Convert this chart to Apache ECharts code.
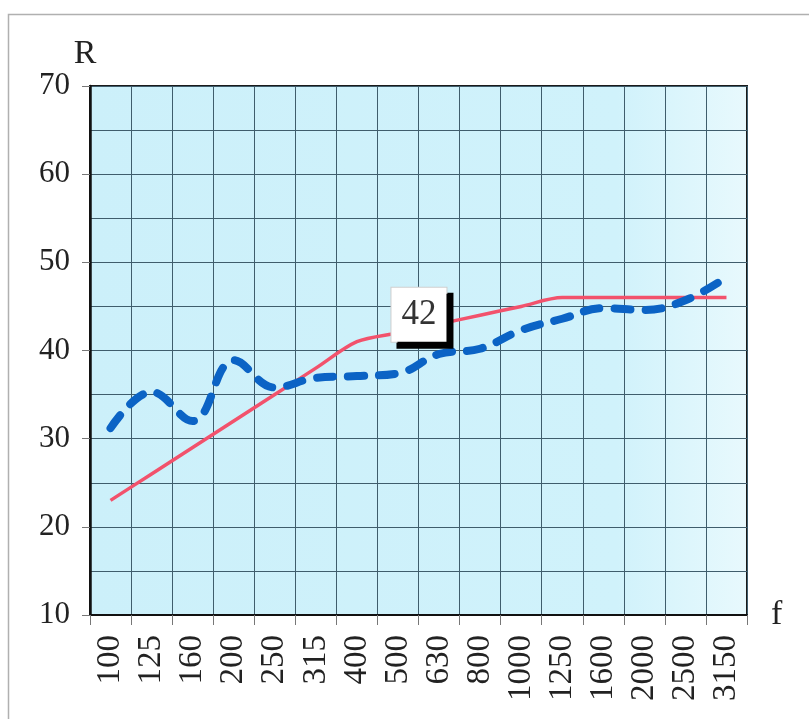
<!DOCTYPE html>
<html>
<head>
<meta charset="utf-8">
<script src="https://cdn.jsdelivr.net/npm/echarts@6/dist/echarts.min.js"></script>
<style>html,body{margin:0;padding:0;background:#fff;}#c{width:809px;height:719px;}</style>
</head>
<body>
<div id="c"></div>
<script>
const categories = ['100','125','160','200','250','315','400','500','630','800','1000','1250','1600','2000','2500','3150'];
const referenceCurve = [23,26,29,32,35,38,41,42,43,44,45,46,46,46,46,46];
const measured = [31.2,35.3,32,38.9,35.8,36.9,37.1,37.4,39.6,40.2,42.3,43.6,44.8,44.6,45.7,48.3];
const ratingLabel = '42';
const ratingIndex = 7;
const ratingValue = 42;

const chart = echarts.init(document.getElementById('c'));
const serif = '"Liberation Serif", "DejaVu Serif", serif';
const gridColor = '#3f5d6c';
chart.setOption({
  animation: false,
  backgroundColor: '#ffffff',
  graphic: [{
    type: 'rect', shape: {x: 8.5, y: 14.5, width: 900, height: 800},
    style: {fill: 'none', stroke: '#b0b0b0', lineWidth: 1.5}, silent: true
  }],
  grid: {
    left: 90, right: 62, top: 86, bottom: 104,
    show: true,
    backgroundColor: new echarts.graphic.LinearGradient(0, 0, 1, 0, [
      {offset: 0, color: '#ccf0fa'},
      {offset: 0.8, color: '#d0f2fb'},
      {offset: 1, color: '#e8f9fd'}
    ]),
    borderColor: '#1a1a1a', borderWidth: 2
  },
  xAxis: {
    type: 'category', data: categories, boundaryGap: true,
    name: 'f', nameLocation: 'end', nameGap: 24,
    nameTextStyle: {fontFamily: serif, fontSize: 34, color: '#222', padding: [26, 0, 0, 0]},
    axisLine: {show: true, lineStyle: {color: '#111', width: 2}},
    axisTick: {show: true, length: 10, interval: 0, lineStyle: {color: '#777', width: 1}},
    axisLabel: {rotate: 90, interval: 0, fontFamily: serif, fontSize: 33, color: '#222', margin: 20},
    splitLine: {show: true, interval: 0, lineStyle: {color: gridColor, width: 1}}
  },
  yAxis: {
    type: 'value', min: 10, max: 70, interval: 10,
    name: 'R', nameLocation: 'end', nameGap: 12,
    nameTextStyle: {fontFamily: serif, fontSize: 34, color: '#222', padding: [0, 10, 0, 0]},
    axisLine: {show: true, lineStyle: {color: '#111', width: 2.5}},
    axisTick: {show: true, length: 8, lineStyle: {color: '#777', width: 1}},
    axisLabel: {fontFamily: serif, fontSize: 31, color: '#222', margin: 20},
    splitLine: {show: true, lineStyle: {color: gridColor, width: 1}},
    minorTick: {show: false, splitNumber: 2},
    minorSplitLine: {show: true, lineStyle: {color: gridColor, width: 1}}
  },
  series: [
    {
      type: 'line', data: referenceCurve, smooth: 0.3, symbol: 'none', z: 3,
      lineStyle: {color: '#f2526c', width: 3.5},
      markPoint: {
        symbol: 'rect', symbolSize: 0,
        data: [{coord: [ratingIndex, ratingValue], value: ratingLabel}],
        label: {
          show: true, formatter: ratingLabel, offset: [21, -18],
          fontFamily: serif, fontSize: 35, color: '#333',
          backgroundColor: '#ffffff', borderColor: '#cfcfcf', borderWidth: 1,
          padding: [11, 10, 8, 10],
          shadowColor: '#000', shadowOffsetX: 6, shadowOffsetY: 6, shadowBlur: 0
        }
      }
    },
    {
      type: 'line', data: measured, smooth: 0.4, symbol: 'none', z: 4,
      lineStyle: {color: '#0b63c5', width: 8, type: [16, 15], cap: 'round'}
    }
  ]
});
</script>
</body>
</html>
